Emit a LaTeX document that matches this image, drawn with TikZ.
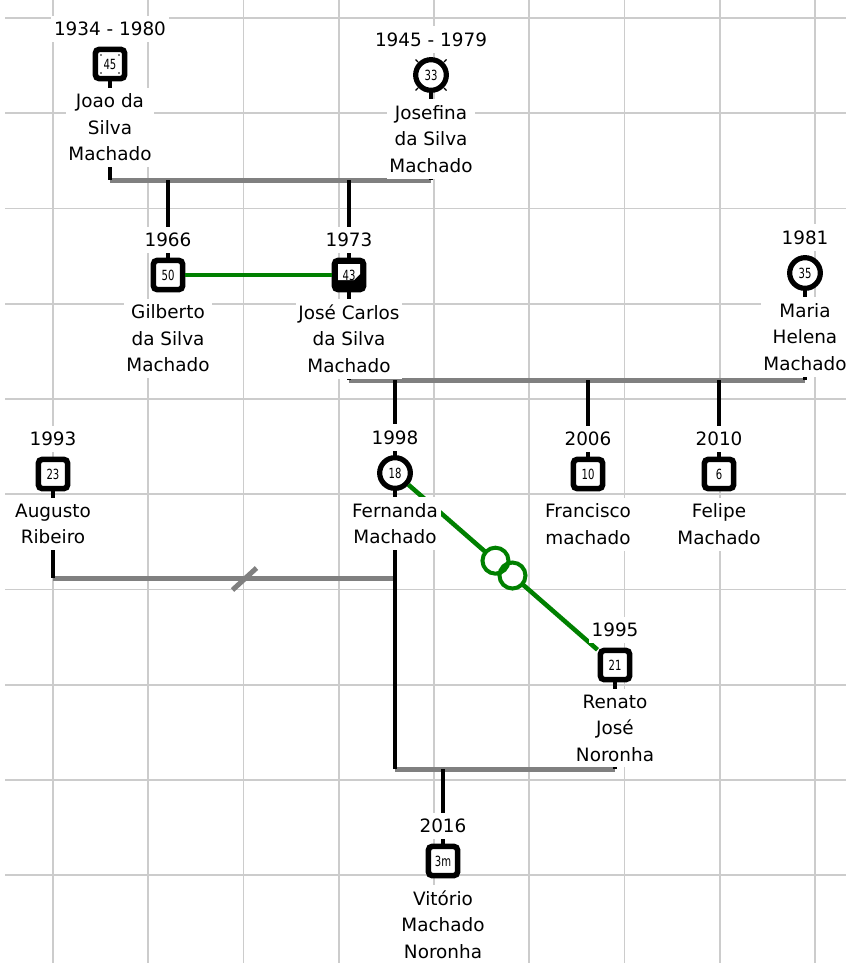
\documentclass[tikz,border=0pt]{standalone}
\usepackage{fontspec}
\setmainfont{DejaVu Sans}
\newfontfamily\agefont[FakeStretch=0.72]{DejaVu Sans}
\usepackage{tikz}
\usetikzlibrary{positioning, calc}
\definecolor{gridgray}{HTML}{CCCCCC}
\definecolor{bargray}{HTML}{808080}
\definecolor{bondgreen}{HTML}{008000}

\begin{document}
\begin{tikzpicture}[x=0.75pt, y=-0.75pt,
  male/.style={draw, line width=4.2pt, rounded corners=3pt, minimum size=22pt, inner sep=0pt, fill=white, font=\agefont\fontsize{10.5}{11}\selectfont},
  female/.style={draw, circle, line width=3.9pt, minimum size=23pt, inner sep=0pt, fill=white, font=\agefont\fontsize{10.5}{11}\selectfont},
  yearlbl/.style={fill=white, inner xsep=2pt, inner ysep=4.8pt, font=\fontsize{13.8}{16}\selectfont},
  fullname/.style={fill=white, align=center, inner xsep=2pt, inner ysep=4.5pt, font=\fontsize{13.8}{19.9}\selectfont},
  gridline/.style={gridgray, line width=1.4pt},
  couple/.style={bargray, line width=3.75pt},
  stem/.style={black, line width=3.4pt},
  bond/.style={bondgreen, line width=3.4pt},
  ring/.style={bondgreen, line width=3pt},
]
\useasboundingbox (0,0) rectangle (846,963);

% Grid
\foreach \gx in {0,...,8}
  \draw[gridline] ({53+95.25*\gx},0) -- ({53+95.25*\gx},963);
\foreach \gy in {0,...,9}
  \draw[gridline] (5,{18+95.25*\gy}) -- (846,{18+95.25*\gy});

% People
\node[male] (joao) at (110,64) {45};
\node[female] (josefina) at (431,75) {33};
\node[male] (gilberto) at (168,275) {50};
\node[male, fill=black, path picture={\fill[white, sharp corners] ([shift={(-11,-11)}]path picture bounding box.center) -- ++(22,0) -- ++(0,10) -- ++(-6,6) -- ++(-16,0) -- cycle;}] (josecarlos) at (349,275) {43};
\node[female] (maria) at (805,273) {35};
\node[male] (augusto) at (53,474) {23};
\node[female] (fernanda) at (395,473) {18};
\node[male] (francisco) at (588,474) {10};
\node[male] (felipe) at (719,474) {6};
\node[male] (renato) at (615,665) {21};
\node[male] (vitorio) at (443,861) {3m};

% Deceased marks
\foreach \dx/\dy in {-1/-1, 1/-1, -1/1, 1/1} {
  \fill ($(joao)+(9*\dx,9*\dy)$) circle (0.7pt);
  \draw[line width=0.9pt] ($(josefina)+(13*\dx,13*\dy)$) -- ($(josefina)+(15.5*\dx,15.5*\dy)$);
}

% Couple bars
\coordinate (joaobar) at (0,180);
\coordinate (carlosbar) at (0,380);
\coordinate (augustobar) at (0,578);
\coordinate (renatobar) at (0,769);

\draw[couple] (joao |- joaobar) -- (josefina |- joaobar);
\draw[couple] (josecarlos |- carlosbar) -- (maria |- carlosbar);
\draw[couple] (augusto |- augustobar) -- (fernanda |- augustobar);
\draw[couple] (fernanda |- renatobar) -- (renato |- renatobar);
\draw[couple] ($(augusto |- augustobar)!0.56!(fernanda |- augustobar)+(-12,12)$) -- ++(24,-22);

% Stems
\draw[stem] (joao.south) -- (joao |- joaobar);
\draw[stem] (josefina.south) -- (josefina |- joaobar);
\draw[stem] (gilberto |- joaobar) -- (gilberto.north);
\draw[stem] (josecarlos |- joaobar) -- (josecarlos.north);
\draw[stem] (josecarlos.south) -- (josecarlos |- carlosbar);
\draw[stem] (maria.south) -- (maria |- carlosbar);
\draw[stem] (fernanda |- carlosbar) -- (fernanda.north);
\draw[stem] (francisco |- carlosbar) -- (francisco.north);
\draw[stem] (felipe |- carlosbar) -- (felipe.north);
\draw[stem] (augusto.south) -- (augusto |- augustobar);
\draw[stem] (fernanda.south) -- (fernanda |- renatobar);
\draw[stem] (renato.south) -- (renato |- renatobar);
\draw[stem] (vitorio |- renatobar) -- (vitorio.north);

% Green bonds
\draw[bond] (gilberto) -- (josecarlos);
\draw[bond] (fernanda) -- (renato) coordinate[pos=0.46] (ringa) coordinate[pos=0.55] (ringb);
\fill[white] (ringa) circle (9.75pt) (ringb) circle (9.75pt);
\draw[ring] (ringa) circle (9.75pt) (ringb) circle (9.75pt);

% Years
\node[yearlbl, above=3pt of joao] (joaoyear) {1934 - 1980};
\node[yearlbl, above=3pt of josefina] (josefinayear) {1945 - 1979};
\node[yearlbl, above=3pt of gilberto] (gilbertoyear) {1966};
\node[yearlbl, above=3pt of josecarlos] (josecarlosyear) {1973};
\node[yearlbl, above=3pt of maria] (mariayear) {1981};
\node[yearlbl, above=3pt of augusto] (augustoyear) {1993};
\node[yearlbl, above=3pt of fernanda] (fernandayear) {1998};
\node[yearlbl, above=3pt of francisco] (franciscoyear) {2006};
\node[yearlbl, above=3pt of felipe] (felipeyear) {2010};
\node[yearlbl, above=3pt of renato] (renatoyear) {1995};
\node[yearlbl, above=3pt of vitorio] (vitorioyear) {2016};

% Names
\node[fullname, below=4.5pt of joao] (joaoname) {Joao da\\Silva\\Machado};
\node[fullname, below=4.5pt of josefina] (josefinaname) {Josefina\\da Silva\\Machado};
\node[fullname, below=4.5pt of gilberto] (gilbertoname) {Gilberto\\da Silva\\Machado};
\node[fullname, below=4.5pt of josecarlos] (josecarlosname) {José Carlos\\da Silva\\Machado};
\node[fullname, below=4.5pt of maria] (marianame) {Maria\\Helena\\Machado};
\node[fullname, below=4.5pt of augusto] (augustoname) {Augusto\\Ribeiro};
\node[fullname, below=4.5pt of fernanda] (fernandaname) {Fernanda\\Machado};
\node[fullname, below=4.5pt of francisco] (francisconame) {Francisco\\machado};
\node[fullname, below=4.5pt of felipe] (felipename) {Felipe\\Machado};
\node[fullname, below=4.5pt of renato] (renatoname) {Renato\\José\\Noronha};
\node[fullname, below=4.5pt of vitorio] (vitorioname) {Vitório\\Machado\\Noronha};

\end{tikzpicture}
\end{document}
